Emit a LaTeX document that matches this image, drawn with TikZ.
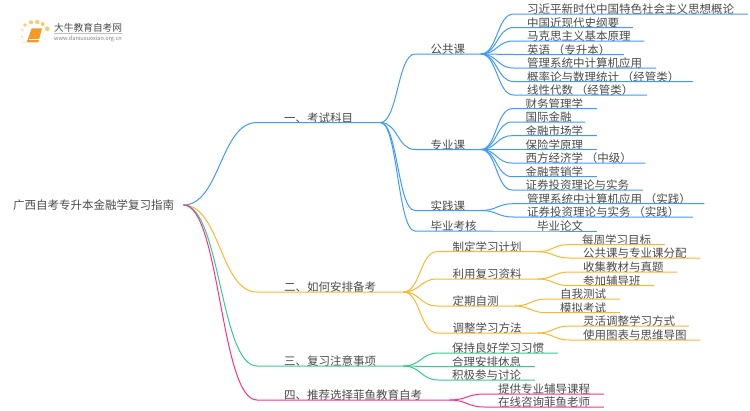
\documentclass[tikz,border=0pt]{standalone}
\usepackage{fontspec}
\setmainfont{Noto Sans CJK SC}
\usetikzlibrary{calc}

\definecolor{txtgray}{HTML}{4A4A4A}
\definecolor{blueline}{HTML}{3D9BFF}
\definecolor{orangeline}{HTML}{FFB52E}
\definecolor{greenline}{HTML}{2FD08A}
\definecolor{pinkline}{HTML}{FF2E8B}
\definecolor{bookorange}{HTML}{F59A23}
\definecolor{dotyellow}{HTML}{FBCB6B}

\tikzset{
  root/.style={anchor=west,inner xsep=9pt,inner ysep=0pt,font=\fontsize{11.5pt}{13pt}\selectfont,text=txtgray},
  label/.style={anchor=south west,inner ysep=0pt,text height=9.5pt,text depth=0.2pt,font=\fontsize{11.5pt}{13pt}\selectfont,text=txtgray},
  trunk/.style={label,inner xsep=27pt},
  branch/.style={label,inner xsep=15.5pt},
  leaf/.style={label,inner xsep=13.5pt},
  link/.style={to path={let \p1=(\tikztostart),\p2=(\tikztotarget),\n1={0.5*(\x2-\x1)} in
    (\p1) .. controls (\x1+\n1,\y1) and (\x2-\n1,\y2) .. (\p2)}}
}

\begin{document}
\begin{tikzpicture}[x=1pt,y=-1pt]
  \useasboundingbox (0,0) rectangle (750,410);

  % logo
  \begin{scope}
    \fill[bookorange] (31.7,28.3) -- (42,28.3) -- (38.3,42.3) -- (26.7,42.3) -- cycle;
    \draw[white,line width=0.6pt] (28.5,39.5) -- (38.5,39.5);
    \fill[dotyellow] (25,25) circle (1.8) (31,22.3) circle (2) (37.3,22) circle (2.2) (42.7,24) circle (2) (47.3,28.7) circle (2.3);
    \fill[dotyellow!60] (22.3,30) circle (1.4) (22,36.7) circle (1.2) (24,42.3) circle (1);
    \node (logoname) [anchor=west,inner sep=0pt,font=\fontsize{9.7pt}{11pt}\selectfont,text=txtgray] at (54,27.3) {大牛教育自考网};
    \node (logourl) [anchor=west,inner sep=0pt,font=\fontsize{5.6pt}{7pt}\selectfont,text=gray] at (54,38.7) {www.daniuxuexiao.org.cn};
    \draw[black!25,line width=0.5pt] (logoname.south west |- 0,33) -- (122,33);
  \end{scope}

  \node (zhinan) [root] at (4,205) {广西自考专升本金融学复习指南};

  % first level
  \node (kaoshi) [trunk] at (257,122.5) {一、考试科目};
  \node (beikao) [trunk] at (257,292) {二、如何安排备考};
  \node (zhuyi) [trunk] at (257,366) {三、复习注意事项};
  \node (tuijian) [trunk] at (257,400) {四、推荐选择菲鱼教育自考};

  % second level
  \node (gonggong) [branch] at (415,54) {公共课};
  \node (zhuanye) [branch] at (415,149.5) {专业课};
  \node (shijian) [branch] at (415,210.5) {实践课};
  \node (biye) [branch] at (415,231) {毕业考核};
  \node (jihua) [branch] at (437,251.7) {制定学习计划};
  \node (ziliao) [branch] at (437,279) {利用复习资料};
  \node (zice) [branch] at (437,306) {定期自测};
  \node (fangfa) [branch] at (437,333) {调整学习方法};

  % leaves
  \node (gg1) [leaf] at (513.5,14) {习近平新时代中国特色社会主义思想概论};
  \node (gg2) [leaf] at (513.5,27.5) {中国近现代史纲要};
  \node (gg3) [leaf] at (513.5,41) {马克思主义基本原理};
  \node (gg4) [leaf] at (513.5,54.5) {英语 （专升本）};
  \node (gg5) [leaf] at (513.5,68) {管理系统中计算机应用};
  \node (gg6) [leaf] at (513.5,81.5) {概率论与数理统计 （经管类）};
  \node (gg7) [leaf] at (513.5,95) {线性代数 （经管类）};

  \node (zy1) [leaf] at (512,108.7) {财务管理学};
  \node (zy2) [leaf] at (512,122) {国际金融};
  \node (zy3) [leaf] at (512,135.7) {金融市场学};
  \node (zy4) [leaf] at (512,149.5) {保险学原理};
  \node (zy5) [leaf] at (512,163) {西方经济学 （中级）};
  \node (zy6) [leaf] at (512,176.7) {金融营销学};
  \node (zy7) [leaf] at (512,190) {证券投资理论与实务};

  \node (sj1) [leaf] at (513.5,203.7) {管理系统中计算机应用 （实践）};
  \node (sj2) [leaf] at (513.5,217) {证券投资理论与实务 （实践）};
  \node (by1) [leaf] at (523.5,231) {毕业论文};

  \node (jh1) [leaf] at (568.5,244.7) {每周学习目标};
  \node (jh2) [leaf] at (569.5,258) {公共课与专业课分配};
  \node (zl1) [leaf] at (569.5,272) {收集教材与真题};
  \node (zl2) [leaf] at (569.5,285.7) {参加辅导班};
  \node (zc1) [leaf] at (546.5,299) {自我测试};
  \node (zc2) [leaf] at (546.5,312.7) {模拟考试};
  \node (ff1) [leaf] at (569.5,326) {灵活调整学习方式};
  \node (ff2) [leaf] at (569.5,340) {使用图表与思维导图};

  \node (zs1) [leaf] at (438.5,353) {保持良好学习习惯};
  \node (zs2) [leaf] at (438.5,366.7) {合理安排休息};
  \node (zs3) [leaf] at (438.5,380) {积极参与讨论};

  \node (tj1) [leaf] at (484.5,394) {提供专业辅导课程};
  \node (tj2) [leaf] at (484.5,407) {在线咨询菲鱼老师};

  \begin{scope}[color=blueline,line width=1pt]
    \draw (zhinan.east) to[link] (kaoshi.south west) -- (kaoshi.south east);
    \draw (kaoshi.south east) to[link] (gonggong.south west) -- (gonggong.south east);
    \draw (kaoshi.south east) to[link] (zhuanye.south west) -- (zhuanye.south east);
    \draw (kaoshi.south east) to[link] (shijian.south west) -- (shijian.south east);
    \draw (kaoshi.south east) to[link] (biye.south west) -- (biye.south east);
    \draw (gonggong.south east) to[link] (gg1.south west) -- (gg1.south east);
    \draw (gonggong.south east) to[link] (gg2.south west) -- (gg2.south east);
    \draw (gonggong.south east) to[link] (gg3.south west) -- (gg3.south east);
    \draw (gonggong.south east) to[link] (gg4.south west) -- (gg4.south east);
    \draw (gonggong.south east) to[link] (gg5.south west) -- (gg5.south east);
    \draw (gonggong.south east) to[link] (gg6.south west) -- (gg6.south east);
    \draw (gonggong.south east) to[link] (gg7.south west) -- (gg7.south east);
    \draw (zhuanye.south east) to[link] (zy1.south west) -- (zy1.south east);
    \draw (zhuanye.south east) to[link] (zy2.south west) -- (zy2.south east);
    \draw (zhuanye.south east) to[link] (zy3.south west) -- (zy3.south east);
    \draw (zhuanye.south east) to[link] (zy4.south west) -- (zy4.south east);
    \draw (zhuanye.south east) to[link] (zy5.south west) -- (zy5.south east);
    \draw (zhuanye.south east) to[link] (zy6.south west) -- (zy6.south east);
    \draw (zhuanye.south east) to[link] (zy7.south west) -- (zy7.south east);
    \draw (shijian.south east) to[link] (sj1.south west) -- (sj1.south east);
    \draw (shijian.south east) to[link] (sj2.south west) -- (sj2.south east);
    \draw (biye.south east) -- (by1.south west) -- (by1.south east);
  \end{scope}

  \begin{scope}[color=orangeline,line width=1pt]
    \draw (zhinan.east) to[link] (beikao.south west) -- (beikao.south east);
    \draw (beikao.south east) to[link] (jihua.south west) -- (jihua.south east);
    \draw (beikao.south east) to[link] (ziliao.south west) -- (ziliao.south east);
    \draw (beikao.south east) to[link] (zice.south west) -- (zice.south east);
    \draw (beikao.south east) to[link] (fangfa.south west) -- (fangfa.south east);
    \draw (jihua.south east) to[link] (jh1.south west) -- (jh1.south east);
    \draw (jihua.south east) to[link] (jh2.south west) -- (jh2.south east);
    \draw (ziliao.south east) to[link] (zl1.south west) -- (zl1.south east);
    \draw (ziliao.south east) to[link] (zl2.south west) -- (zl2.south east);
    \draw (zice.south east) to[link] (zc1.south west) -- (zc1.south east);
    \draw (zice.south east) to[link] (zc2.south west) -- (zc2.south east);
    \draw (fangfa.south east) to[link] (ff1.south west) -- (ff1.south east);
    \draw (fangfa.south east) to[link] (ff2.south west) -- (ff2.south east);
  \end{scope}

  \begin{scope}[color=greenline,line width=1pt]
    \draw (zhinan.east) to[link] (zhuyi.south west) -- (zhuyi.south east);
    \draw (zhuyi.south east) to[link] (zs1.south west) -- (zs1.south east);
    \draw (zhuyi.south east) to[link] (zs2.south west) -- (zs2.south east);
    \draw (zhuyi.south east) to[link] (zs3.south west) -- (zs3.south east);
  \end{scope}

  \begin{scope}[color=pinkline,line width=1pt]
    \draw (zhinan.east) to[link] (tuijian.south west) -- (tuijian.south east);
    \draw (tuijian.south east) to[link] (tj1.south west) -- (tj1.south east);
    \draw (tuijian.south east) to[link] (tj2.south west) -- (tj2.south east);
  \end{scope}
\end{tikzpicture}
\end{document}
